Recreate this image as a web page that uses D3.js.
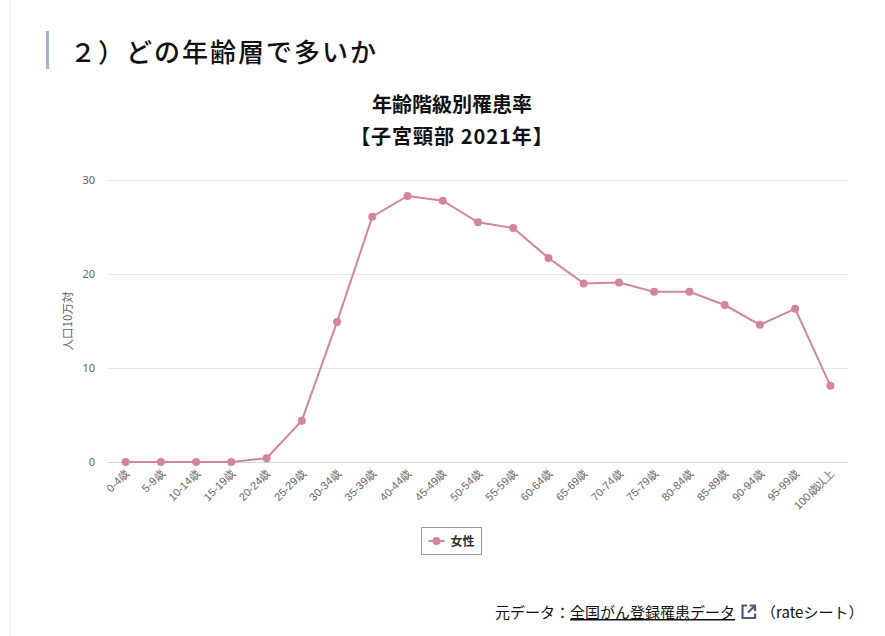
<!DOCTYPE html>
<html>
<head>
<meta charset="utf-8">
<script src="https://cdn.jsdelivr.net/npm/d3@7"></script>
<style>
  html, body { margin: 0; padding: 0; background: #fff; }
  svg { display: block; font-family: "Noto Sans CJK JP", "Noto Sans", sans-serif; }
</style>
</head>
<body>
<svg id="chart"></svg>
<script>
// data
const ageGroups = ["0-4歳", "5-9歳", "10-14歳", "15-19歳", "20-24歳", "25-29歳", "30-34歳",
  "35-39歳", "40-44歳", "45-49歳", "50-54歳", "55-59歳", "60-64歳", "65-69歳", "70-74歳",
  "75-79歳", "80-84歳", "85-89歳", "90-94歳", "95-99歳", "100歳以上"];
const femaleRate = [0, 0, 0, 0, 0.4, 4.4, 14.9, 26.1, 28.3, 27.8, 25.5, 24.9, 21.7, 19.0,
  19.1, 18.1, 18.1, 16.7, 14.6, 16.3, 8.1];
const yTicks = [0, 10, 20, 30];

const W = 885, H = 636;
const lineColor = "#d4849f";

const svg = d3.select("#chart")
  .attr("width", W)
  .attr("height", H);

// page frame line on the left
svg.append("line")
  .attr("x1", 10.5).attr("x2", 10.5)
  .attr("y1", 0).attr("y2", H)
  .attr("stroke", "#eeeeee");

// heading
svg.append("rect")
  .attr("x", 46).attr("y", 31)
  .attr("width", 3).attr("height", 38)
  .attr("fill", "#a3b3cf");

svg.append("text")
  .attr("x", 70).attr("y", 62)
  .attr("font-size", 26)
  .attr("font-weight", 500)
  .attr("letter-spacing", 2)
  .attr("fill", "#111")
  .text("２）どの年齢層で多いか");

// chart titles
const cx = 452;
svg.append("text")
  .attr("x", cx).attr("y", 112)
  .attr("text-anchor", "middle")
  .attr("font-size", 20).attr("font-weight", "bold")
  .attr("fill", "#111")
  .text("年齢階級別罹患率");

svg.append("text")
  .attr("x", cx).attr("y", 144)
  .attr("text-anchor", "middle")
  .attr("font-size", 20).attr("font-weight", "bold")
  .attr("letter-spacing", 1)
  .attr("fill", "#111")
  .text("【子宮頸部 2021年】");

// plot area
const plot = { left: 108, right: 848, top: 180, bottom: 462 };

const x = d3.scalePoint()
  .domain(ageGroups)
  .range([plot.left, plot.right])
  .padding(0.5);

const y = d3.scaleLinear()
  .domain([0, 30])
  .range([plot.bottom, plot.top]);

// gridlines
svg.append("g")
  .selectAll("line")
  .data(yTicks.filter(d => d > 0))
  .join("line")
  .attr("x1", plot.left).attr("x2", plot.right)
  .attr("y1", d => y(d) + 0.5).attr("y2", d => y(d) + 0.5)
  .attr("stroke", "#e6e6e6");

// y axis labels
const yAxis = svg.append("g")
  .attr("transform", `translate(${plot.left},0)`)
  .call(d3.axisLeft(y).tickValues(yTicks).tickSize(0).tickPadding(13));
yAxis.select(".domain").remove();
yAxis.selectAll("text")
  .attr("font-size", 11)
  .attr("fill", "#666")
  .attr("font-family", "'Noto Sans', sans-serif");

svg.append("text")
  .attr("transform", `translate(72,${(plot.top + plot.bottom) / 2}) rotate(-90)`)
  .attr("text-anchor", "middle")
  .attr("font-size", 11.5)
  .attr("fill", "#666")
  .text("人口10万対");

// x axis
const xAxis = svg.append("g")
  .attr("transform", `translate(0,${plot.bottom})`)
  .call(d3.axisBottom(x).tickSize(0).tickPadding(0));
xAxis.select(".domain")
  .attr("stroke", "#ccd6eb")
  .attr("d", `M${plot.left},0.5H${plot.right}`);
xAxis.selectAll("text")
  .attr("font-size", 11)
  .attr("fill", "#666")
  .attr("text-anchor", "end")
  .attr("dy", null)
  .attr("y", null)
  .attr("transform", "translate(4,12) rotate(-45)");

// line
const line = d3.line()
  .x((d, i) => x(ageGroups[i]))
  .y(d => y(d));

svg.append("path")
  .datum(femaleRate)
  .attr("fill", "none")
  .attr("stroke", lineColor)
  .attr("stroke-width", 2)
  .attr("d", line);

svg.append("g")
  .selectAll("circle")
  .data(femaleRate)
  .join("circle")
  .attr("cx", (d, i) => x(ageGroups[i]))
  .attr("cy", d => y(d))
  .attr("r", 4)
  .attr("fill", lineColor);

// legend
const legend = svg.append("g").attr("transform", "translate(421.5,527.5)");
legend.append("rect")
  .attr("width", 60).attr("height", 27)
  .attr("fill", "#fff")
  .attr("stroke", "#999");
legend.append("line")
  .attr("x1", 7).attr("x2", 23)
  .attr("y1", 13.5).attr("y2", 13.5)
  .attr("stroke", lineColor).attr("stroke-width", 2);
legend.append("circle")
  .attr("cx", 15).attr("cy", 13.5).attr("r", 4)
  .attr("fill", lineColor);
legend.append("text")
  .attr("x", 29).attr("y", 18)
  .attr("font-size", 12).attr("font-weight", "bold")
  .attr("fill", "#333")
  .text("女性");

// source
const src = svg.append("text")
  .attr("x", 495).attr("y", 618)
  .attr("font-size", 15)
  .attr("fill", "#111");
src.append("tspan").text("元データ：");
src.append("tspan").attr("text-decoration", "underline").text("全国がん登録罹患データ");

const srcEnd = src.node().getComputedTextLength();
const ix = 495 + srcEnd + 6, iy = 604;
const icon = svg.append("g")
  .attr("transform", `translate(${ix},${iy})`)
  .attr("fill", "none")
  .attr("stroke", "#4b5a7e")
  .attr("stroke-width", 2.2);
icon.append("path").attr("d", "M6,1.5H1.5V14H14V9.5");
icon.append("path").attr("d", "M8.5,1.5H14V7M14,1.5L7,8.5");

svg.append("text")
  .attr("x", ix + 20).attr("y", 618)
  .attr("font-size", 15)
  .attr("fill", "#111")
  .text("（rateシート）");
</script>
</body>
</html>
